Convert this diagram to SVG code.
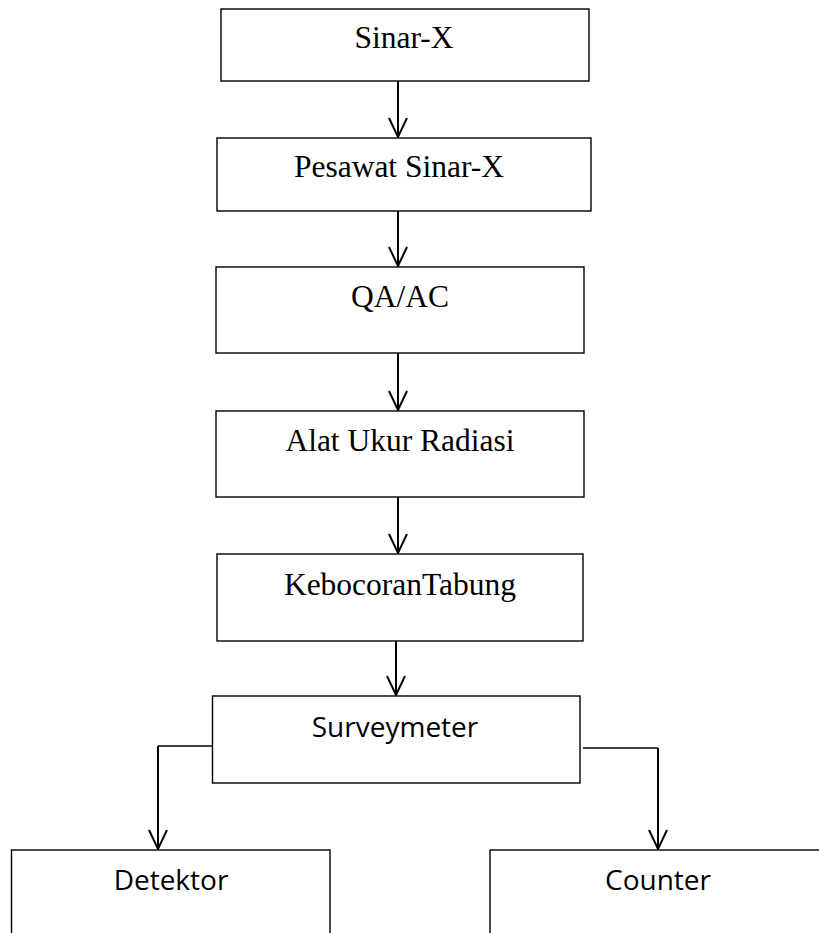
<svg xmlns="http://www.w3.org/2000/svg" width="819" height="933" viewBox="0 0 819 933">
<style>
.box{fill:#fff;stroke:#000;stroke-width:1.4}
.t{font-family:"Liberation Serif","Times New Roman",serif;font-size:31.5px;fill:#000;text-anchor:middle}
.c{font-family:"Open Sans","Noto Sans",sans-serif;font-size:28px;fill:#000;text-anchor:middle}
.ln{fill:none;stroke:#000;stroke-width:2}
.thin{fill:none;stroke:#000;stroke-width:1.4}
</style>
<rect width="819" height="933" fill="#fff"/>
<g id="connectors">
<path class="ln" d="M398 81V137M389 118L398 137L407 118"/>
<path class="ln" d="M398 211V266M389 247L398 266L407 247"/>
<path class="ln" d="M398 353V410M389 391L398 410L407 391"/>
<path class="ln" d="M398 497V553M389 534L398 553L407 534"/>
<path class="ln" d="M396 641V695M387 676L396 695L405 676"/>
<path class="thin" d="M212 746H158"/>
<path class="ln" d="M158 746V849M149 830L158 849L167 830"/>
<path class="thin" d="M583 748H658"/>
<path class="ln" d="M658 748V849M649 830L658 849L667 830"/>
</g>
<g id="sinar-x"><rect class="box" x="221" y="9" width="368" height="72"/><text class="t" x="404" y="48">Sinar-X</text></g>
<g id="pesawat"><rect class="box" x="217" y="138" width="374" height="73"/><text class="t" x="399" y="177">Pesawat Sinar-X</text></g>
<g id="qaac"><rect class="box" x="216" y="267" width="368" height="86"/><text class="t" x="400" y="307">QA/AC</text></g>
<g id="alat"><rect class="box" x="216" y="411" width="368" height="86"/><text class="t" x="400" y="451">Alat Ukur Radiasi</text></g>
<g id="kebocoran"><rect class="box" x="217" y="554" width="366" height="87"/><text class="t" x="400" y="595">KebocoranTabung</text></g>
<g id="surveymeter"><rect class="box" x="212.5" y="696" width="367.5" height="87"/><text class="c" x="395" y="737">Surveymeter</text></g>
<g id="detektor"><rect class="box" x="11.5" y="850" width="318.5" height="100"/><text class="c" x="171" y="890">Detektor</text></g>
<g id="counter"><rect class="box" x="490" y="850" width="340" height="100"/><text class="c" x="658" y="890">Counter</text></g>
</svg>
